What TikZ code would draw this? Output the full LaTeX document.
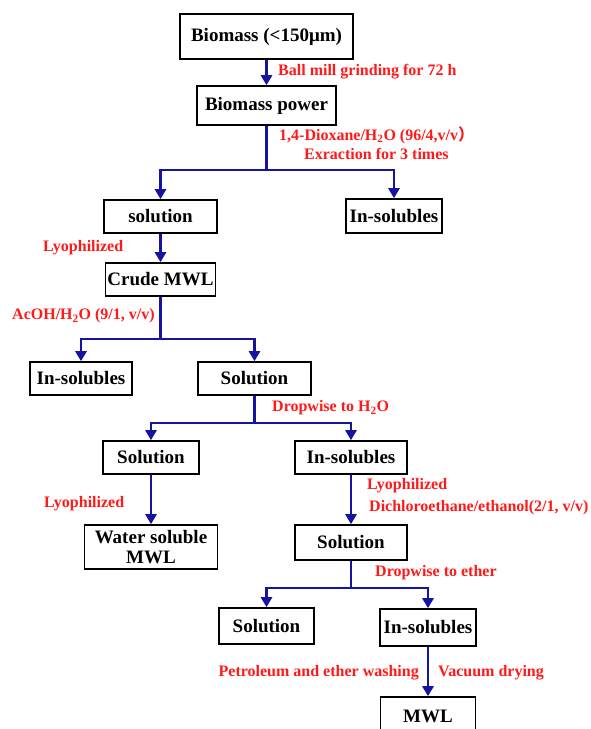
\documentclass[tikz,border=0pt]{standalone}
\usepackage{fontspec}
\setmainfont{Liberation Serif}
\newfontfamily\cjk{Noto Sans CJK SC}
\usetikzlibrary{arrows.meta}
\definecolor{flowblue}{RGB}{20,20,160}
\definecolor{notered}{RGB}{255,25,25}

\begin{document}
\begin{tikzpicture}[x=1pt, y=-1pt,
        box/.style={draw, line width=1.6pt, inner sep=0pt, align=center,
            font=\fontsize{19}{20}\selectfont\bfseries},
        note/.style={text=notered, inner sep=0pt,
            font=\fontsize{16}{18}\selectfont\bfseries},
        link/.style={draw=flowblue, line width=2.6pt},
        flow/.style={link, -{Triangle[width=11pt,length=10pt]}}]
        \useasboundingbox (0,0) rectangle (590,729);
        \clip (0,0) rectangle (590,729);

        % boxes
        \node[box, minimum width=173, minimum height=45] (biomass) at (266.5,36.5) {Biomass (<150μm)};
        \node[box, minimum width=139, minimum height=39] (power) at (266.5,105.5) {Biomass power};
        \node[box, minimum width=113, minimum height=33] (sol1) at (160.5,216.5) {solution};
        \node[box, minimum width=96, minimum height=34] (ins1) at (394,216) {In-solubles};
        \node[box, minimum width=110, minimum height=33] (crude) at (160.5,279.5) {Crude MWL};
        \node[box, minimum width=102, minimum height=33] (ins2) at (81,378.5) {In-solubles};
        \node[box, minimum width=113, minimum height=33] (sol2) at (254.5,378.5) {Solution};
        \node[box, minimum width=96, minimum height=33] (sol3) at (151,457.5) {Solution};
        \node[box, minimum width=112, minimum height=33] (ins3) at (351,457.5) {In-solubles};
        \node[box, minimum width=133, minimum height=44] (water) at (151,547) {Water soluble\\MWL};
        \node[box, minimum width=112, minimum height=35] (sol4) at (351,542.5) {Solution};
        \node[box, minimum width=95, minimum height=36] (sol5) at (266.5,626) {Solution};
        \node[box, minimum width=96, minimum height=37] (ins4) at (428,627.5) {In-solubles};
        \node[box, minimum width=95, minimum height=38] (mwl) at (428,716) {MWL};

        % branch points
        \coordinate (j1) at (266.5,170);
        \coordinate (j2) at (160.5,339);
        \coordinate (j3) at (254.5,423);
        \coordinate (j4) at (351,588);

        % connectors
        \draw[flow] (biomass) -- (power);
        \draw[link] (power) -- (j1);
        \draw[flow] (j1) -| (sol1);
        \draw[flow] (j1) -| (ins1);
        \draw[flow] (sol1) -- (crude);
        \draw[link] (crude) -- (j2);
        \draw[flow] (j2) -| (ins2);
        \draw[flow] (j2) -| (sol2);
        \draw[link] (sol2) -- (j3);
        \draw[flow] (j3) -| (sol3);
        \draw[flow] (j3) -| (ins3);
        \draw[flow] (sol3) -- (water);
        \draw[flow] (ins3) -- (sol4);
        \draw[link] (sol4) -- (j4);
        \draw[flow] (j4) -| (sol5);
        \draw[flow] (j4) -| (ins4);
        \draw[flow] (ins4) -- (mwl);

        % conditions
        \node[note, anchor=west] (grind) at (278,72) {Ball mill grinding for 72 h};
        \node[note, anchor=west] (dioxane) at (279,135) {1,4-Dioxane/H\textsubscript{2}O (96/4,v/v{\cjk ）}};
        \node[note, anchor=west] (extract) at (304,154) {Exraction for 3 times};
        \node[note, anchor=west] (lyo1) at (43,248) {Lyophilized};
        \node[note, anchor=west] (acoh) at (12,316) {AcOH/H\textsubscript{2}O (9/1, v/v)};
        \node[note, anchor=west] (drop1) at (272,408) {Dropwise to H\textsubscript{2}O};
        \node[note, anchor=west] (lyo2) at (44,504) {Lyophilized};
        \node[note, anchor=west] (lyo3) at (367,486) {Lyophilized};
        \node[note, anchor=west] (dcm) at (369,508) {Dichloroethane/ethanol(2/1, v/v)};
        \node[note, anchor=west] (drop2) at (375,573) {Dropwise to ether};
        \node[note, anchor=east] (wash) at (419,673) {Petroleum and ether washing};
        \node[note, anchor=west] (vacuum) at (438,673) {Vacuum drying};
    \end{tikzpicture}
\end{document}
